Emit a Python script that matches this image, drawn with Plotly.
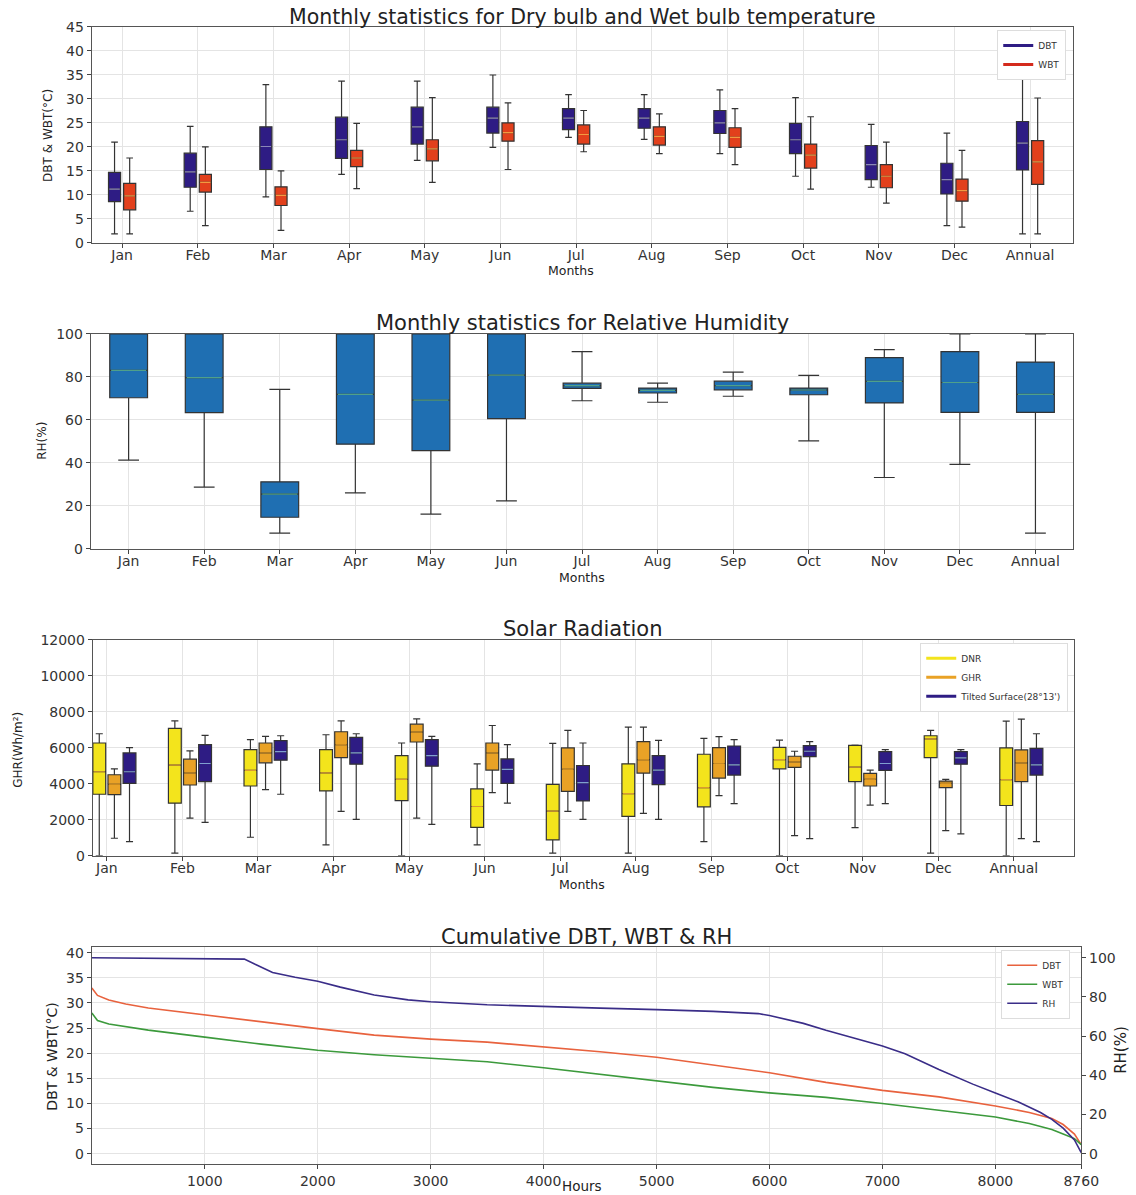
import plotly.graph_objects as go

# figure slightly larger than the window: the photographed picture shows page pixels
# scaled by ~0.986 with an 8px top band, so this covers the whole picture
W, H = 1152, 1206
FONT = "DejaVu Sans"
SX, SY, OY, BODY = 0.986, 0.987, 8.0, 0.0

months = ["Jan", "Feb", "Mar", "Apr", "May", "Jun", "Jul", "Aug", "Sep", "Oct", "Nov", "Dec", "Annual"]
pos = list(range(len(months)))

# ---- Panel 1: DBT / WBT monthly stats (°C)
dbt_low = [1.9, 6.6, 9.6, 14.3, 17.2, 19.9, 22.0, 21.6, 18.6, 13.9, 11.6, 3.6, 1.9]
dbt_q1 = [8.6, 11.6, 15.3, 17.6, 20.6, 22.9, 23.6, 23.9, 22.8, 18.6, 13.2, 10.2, 15.2]
dbt_med = [11.2, 14.8, 20.1, 21.5, 24.2, 26.0, 26.0, 26.0, 25.0, 21.5, 16.3, 13.2, 20.8]
dbt_q3 = [14.7, 18.7, 24.2, 26.2, 28.3, 28.3, 28.0, 28.0, 27.6, 24.9, 20.3, 16.6, 25.3]
dbt_high = [21.0, 24.3, 33.0, 33.7, 33.7, 35.0, 30.9, 30.9, 31.9, 30.3, 24.7, 22.9, 34.9]

wbt_low = [1.9, 3.6, 2.6, 11.3, 12.6, 15.3, 19.0, 18.6, 16.3, 11.2, 8.3, 3.3, 1.9]
wbt_q1 = [6.9, 10.6, 7.8, 15.9, 17.1, 21.2, 20.6, 20.4, 19.9, 15.6, 11.5, 8.7, 12.2]
wbt_med = [9.8, 12.6, 9.9, 17.7, 19.6, 23.0, 22.6, 22.2, 22.0, 18.3, 13.9, 10.9, 16.9]
wbt_q3 = [12.4, 14.3, 11.7, 19.3, 21.5, 25.0, 24.6, 24.2, 24.0, 20.6, 16.3, 13.3, 21.3]
wbt_high = [17.7, 20.0, 15.0, 24.9, 30.3, 29.2, 27.6, 26.9, 28.0, 26.3, 21.0, 19.3, 30.2]

# ---- Panel 2: RH monthly stats (%)
rh_low = [41.3, 28.7, 7.3, 26.0, 16.2, 22.3, 68.9, 68.2, 71.0, 50.2, 33.2, 39.3, 7.3]
rh_q1 = [70.3, 63.4, 14.7, 48.7, 45.7, 60.6, 74.7, 72.5, 74.0, 71.7, 67.9, 63.5, 63.5]
rh_med = [83.0, 79.7, 25.5, 71.9, 69.2, 80.8, 75.9, 73.7, 75.9, 73.9, 77.9, 77.4, 71.9]
rh_q3 = [100, 100, 31.2, 100, 100, 100, 77.1, 74.8, 78.0, 74.8, 89.0, 91.8, 86.9]
rh_high = [100, 100, 74.2, 100, 100, 100, 91.8, 77.1, 82.2, 80.7, 92.7, 100, 100]

# ---- Panel 3: Solar radiation (Wh/m²)
dnr_low = [0, 147, 1029, 606, 0, 606, 147, 147, 790, 0, 1562, 147, 0]
dnr_q1 = [3418, 2922, 3877, 3602, 3069, 1580, 882, 2187, 2720, 4833, 4116, 5458, 2793]
dnr_med = [4668, 5035, 4741, 4612, 4245, 2738, 2481, 3455, 3786, 5348, 4925, 6500, 4227]
dnr_q3 = [6266, 7075, 5899, 5899, 5568, 3712, 3969, 5109, 5642, 6028, 6138, 6671, 5991]
dnr_high = [6781, 7498, 6450, 6726, 6266, 5109, 6248, 7148, 6524, 6432, 6156, 6965, 7480]

ghr_low = [974, 2095, 3675, 2462, 2095, 3510, 2462, 2352, 3344, 1121, 2812, 1397, 956]
ghr_q1 = [3400, 3933, 5164, 5458, 6322, 4760, 3584, 4594, 4318, 4907, 3877, 3786, 4116]
ghr_med = [3970, 4612, 5715, 6175, 6873, 5715, 4796, 5348, 5127, 5219, 4245, 4024, 5164]
ghr_q3 = [4502, 5366, 6266, 6891, 7314, 6266, 5991, 6340, 6009, 5531, 4576, 4153, 5880]
ghr_high = [4833, 5825, 6634, 7498, 7608, 7240, 6965, 7148, 6616, 5807, 4760, 4245, 7590]

tilt_low = [790, 1856, 3418, 2021, 1746, 2922, 2021, 2021, 2903, 956, 2903, 1213, 790]
tilt_q1 = [4024, 4116, 5311, 5090, 4980, 4024, 3050, 3951, 4484, 5513, 4741, 5090, 4484]
tilt_med = [4668, 5127, 5789, 5715, 5568, 4796, 4061, 4760, 5054, 5807, 5127, 5440, 5054]
tilt_q3 = [5715, 6175, 6395, 6579, 6450, 5384, 5017, 5568, 6101, 6120, 5789, 5789, 5972]
tilt_high = [6009, 6689, 6671, 6781, 6634, 6175, 6266, 6413, 6450, 6340, 5899, 5899, 6781]

# ---- Panel 4: cumulative (duration) curves
cum_hours = [0, 50, 150, 300, 500, 1000, 1500, 2000, 2500, 3000, 3500, 4000, 4500, 5000,
             5500, 6000, 6500, 7000, 7500, 8000, 8300, 8500, 8600, 8700, 8760]
cum_dbt = [33.0, 31.5, 30.6, 29.8, 29.0, 27.6, 26.3, 24.9, 23.6, 22.8, 22.2, 21.3, 20.3, 19.2,
           17.7, 16.1, 14.2, 12.6, 11.3, 9.5, 8.2, 7.0, 5.8, 3.9, 1.8]
cum_wbt = [28.0, 26.5, 25.8, 25.3, 24.6, 23.2, 21.8, 20.6, 19.7, 19.0, 18.3, 17.1, 15.8, 14.6,
           13.2, 12.1, 11.2, 10.0, 8.7, 7.3, 6.0, 4.8, 3.9, 3.0, 1.8]
rh_hours = [0, 500, 1000, 1350, 1450, 1600, 1800, 2000, 2200, 2500, 2800, 3000, 3500, 4000,
            4500, 5000, 5500, 5900, 6000, 6300, 6500, 7000, 7200, 7500, 7800, 8000, 8200,
            8400, 8500, 8600, 8700, 8760]
rh_sorted = [100, 99.8, 99.6, 99.3, 96.5, 92.5, 90.0, 88.0, 85.0, 81.0, 78.5, 77.5, 76.0, 75.0,
             74.3, 73.5, 72.6, 71.5, 70.5, 66.5, 63.0, 55.0, 51.0, 43.0, 35.5, 31.0, 26.5,
             21.0, 17.5, 13.0, 7.0, 0.5]

# colours
C_DBT = "#2e1c84"
C_WBT = "#e2401c"
C_RHBOX = "#1f6fb2"
C_DNR = "#f3e41c"
C_GHR = "#e9a226"
C_TILT = "#2e1c84"
C_LINE_DBT = "#e8623e"
C_LINE_WBT = "#3c9a3c"
C_LINE_RH = "#3a2d88"


def px_x(xr):
    """reference-picture x (px) -> paper fraction"""
    return (xr / SX - BODY) / W


def px_y(yr):
    """reference-picture y (px) -> paper fraction"""
    return 1 - ((yr - OY) / SY - BODY) / H


def xd(a, b):
    return [px_x(a), px_x(b)]


def yd(top, bottom):
    return [px_y(bottom), px_y(top)]


fig = go.Figure()


def add_box(x, low, q1, med, q3, high, fill, edge, xa, ya, width):
    fig.add_trace(go.Box(
        x=x, lowerfence=low, q1=q1, median=med, q3=q3, upperfence=high,
        fillcolor=fill, line=dict(color=edge, width=1.2), whiskerwidth=0.55,
        width=width, boxpoints=False, showlegend=False, xaxis=xa, yaxis=ya,
        hoverinfo="skip"))


def add_median(x, med, color, size, xa, ya):
    fig.add_trace(go.Scatter(
        x=x, y=med, mode="markers", showlegend=False, xaxis=xa, yaxis=ya,
        marker=dict(symbol="line-ew", size=size, line=dict(color=color, width=1.2)),
        hoverinfo="skip"))


# Panel 1
x_dbt = [p - 0.1 for p in pos]
x_wbt = [p + 0.1 for p in pos]
add_box(x_dbt, dbt_low, dbt_q1, dbt_med, dbt_q3, dbt_high, C_DBT, "#333333", "x", "y", 0.16)
add_box(x_wbt, wbt_low, wbt_q1, wbt_med, wbt_q3, wbt_high, C_WBT, "#333333", "x", "y", 0.16)
add_median(x_dbt, dbt_med, "#8a86b8", 7.5, "x", "y")
add_median(x_wbt, wbt_med, "#f39a40", 7.5, "x", "y")
fig.add_trace(go.Scatter(x=[None], y=[None], mode="lines", name="DBT",
                         line=dict(color=C_DBT, width=3), xaxis="x", yaxis="y", legend="legend"))
fig.add_trace(go.Scatter(x=[None], y=[None], mode="lines", name="WBT",
                         line=dict(color="#d42a1c", width=3), xaxis="x", yaxis="y", legend="legend"))

# Panel 2
add_box(pos, rh_low, rh_q1, rh_med, rh_q3, rh_high, C_RHBOX, "#333333", "x2", "y2", 0.5)
add_median(pos, rh_med, "#4fa08a", 25, "x2", "y2")

# Panel 3
x_dnr = [p - 0.1 for p in pos]
x_ghr = [p + 0.1 for p in pos]
x_tilt = [p + 0.3 for p in pos]
add_box(x_dnr, dnr_low, dnr_q1, dnr_med, dnr_q3, dnr_high, C_DNR, "#333333", "x3", "y3", 0.17)
add_box(x_ghr, ghr_low, ghr_q1, ghr_med, ghr_q3, ghr_high, C_GHR, "#333333", "x3", "y3", 0.17)
add_box(x_tilt, tilt_low, tilt_q1, tilt_med, tilt_q3, tilt_high, C_TILT, "#333333", "x3", "y3", 0.17)
add_median(x_dnr, dnr_med, "#d99a30", 8, "x3", "y3")
add_median(x_ghr, ghr_med, "#c98a20", 8, "x3", "y3")
add_median(x_tilt, tilt_med, "#7f9fd0", 8, "x3", "y3")
for nm, col in [("DNR", C_DNR), ("GHR", C_GHR), ("Tilted Surface(28°13')", C_TILT)]:
    fig.add_trace(go.Scatter(x=[None], y=[None], mode="lines", name=nm,
                             line=dict(color=col, width=3), xaxis="x3", yaxis="y3",
                             legend="legend2"))

# Panel 4
fig.add_trace(go.Scatter(x=cum_hours, y=cum_dbt, mode="lines", name="DBT",
                         line=dict(color=C_LINE_DBT, width=1.6), xaxis="x4", yaxis="y4",
                         legend="legend3"))
fig.add_trace(go.Scatter(x=cum_hours, y=cum_wbt, mode="lines", name="WBT",
                         line=dict(color=C_LINE_WBT, width=1.6), xaxis="x4", yaxis="y4",
                         legend="legend3"))
fig.add_trace(go.Scatter(x=rh_hours, y=rh_sorted, mode="lines", name="RH",
                         line=dict(color=C_LINE_RH, width=1.6), xaxis="x4", yaxis="y5",
                         legend="legend3"))

GRID = "#e4e4e4"

STANDOFF = {}
try:
    go.layout.XAxis(ticklabelstandoff=-5)
    STANDOFF = {"ticklabelstandoff": -5}
except Exception:
    STANDOFF = {}


def axis_style(size):
    return dict(showline=True, linecolor="#555555", linewidth=1.2, mirror=True, ticks="outside",
                ticklen=4, tickcolor="#444444", showgrid=True, gridcolor=GRID, zeroline=False,
                tickfont=dict(family=FONT, size=size, color="#333333"))


legend_common = dict(bgcolor="white", bordercolor="#dddddd", borderwidth=1,
                     font=dict(family=FONT, size=9, color="#333333"), xanchor="right",
                     yanchor="top", itemwidth=30, tracegroupgap=0)

fig.update_layout(
    width=W, height=H, margin=dict(l=0, r=0, t=0, b=0),
    paper_bgcolor="white", plot_bgcolor="white",
    font=dict(family=FONT, color="#333333"),
    xaxis=dict(domain=xd(92, 1075), anchor="y", range=[-0.4, 12.57],
               tickvals=pos, ticktext=months, **axis_style(14), **STANDOFF),
    yaxis=dict(domain=yd(27, 243), anchor="x", range=[0, 45], dtick=5, **axis_style(14)),
    xaxis2=dict(domain=xd(91, 1075), anchor="y2", range=[-0.5, 12.5],
                tickvals=pos, ticktext=months, **axis_style(14), **STANDOFF),
    yaxis2=dict(domain=yd(334, 549), anchor="x2", range=[0, 100], dtick=20, **axis_style(14)),
    xaxis3=dict(domain=xd(93, 1076), anchor="y3", range=[-0.185, 12.8],
                tickvals=pos, ticktext=months, **axis_style(14), **STANDOFF),
    yaxis3=dict(domain=yd(640, 856), anchor="x3", range=[0, 12000], dtick=2000,
                tickformat="d", **axis_style(14)),
    xaxis4=dict(domain=xd(92, 1083), anchor="y4", range=[0, 8760],
                tickvals=[1000, 2000, 3000, 4000, 5000, 6000, 7000, 8000, 8760], **axis_style(14)),
    yaxis4=dict(domain=yd(947, 1164), anchor="x4", range=[-2, 41.2], dtick=5, **axis_style(14)),
    yaxis5=dict(overlaying="y4", anchor="x4", side="right", range=[-5.1, 105.6],
                tickvals=[0, 20, 40, 60, 80, 100], showgrid=False, showline=False,
                ticks="outside", ticklen=4, tickcolor="#444444", zeroline=False,
                tickfont=dict(family=FONT, size=14, color="#333333")),
    legend=dict(x=px_x(1068), y=px_y(30), **legend_common),
    legend2=dict(x=px_x(1070), y=px_y(643), **legend_common),
    legend3=dict(x=px_x(1072), y=px_y(950), **legend_common),
)

annotations = []


def ann(text, x, y, size, angle=0):
    annotations.append(dict(text=text, x=px_x(x), y=px_y(y), xref="paper", yref="paper",
                            showarrow=False, textangle=angle, xanchor="center",
                            yanchor="middle", font=dict(family=FONT, size=size, color="#222222")))


ann("Monthly statistics for Dry bulb and Wet bulb temperature", 583, 17, 20.5)
ann("Monthly statistics for Relative Humidity", 583, 323, 21)
ann("Solar Radiation", 583, 629, 21)
ann("Cumulative DBT, WBT & RH", 587, 937, 21)
ann("Months", 572, 271, 12.5)
ann("Months", 583, 578, 12.5)
ann("Months", 583, 885, 12.5)
ann("Hours", 583, 1186, 13.5)
ann("DBT & WBT(°C)", 48, 135, 12, -90)
ann("RH(%)", 42, 441, 12, -90)
ann("GHR(Wh/m²)", 18, 750, 12, -90)
ann("DBT & WBT(°C)", 52, 1057, 14, -90)
ann("RH(%)", 1123, 1050, 15, -90)
fig.update_layout(annotations=annotations)

# let the figure start at the page corner: drop the browser's default body margin
page_css = ("document.documentElement.style.margin='0';"
            "document.body.style.margin='0';"
            "document.body.style.overflow='hidden';")

fig.write_html("out.html", post_script=page_css, config={"displayModeBar": False})
